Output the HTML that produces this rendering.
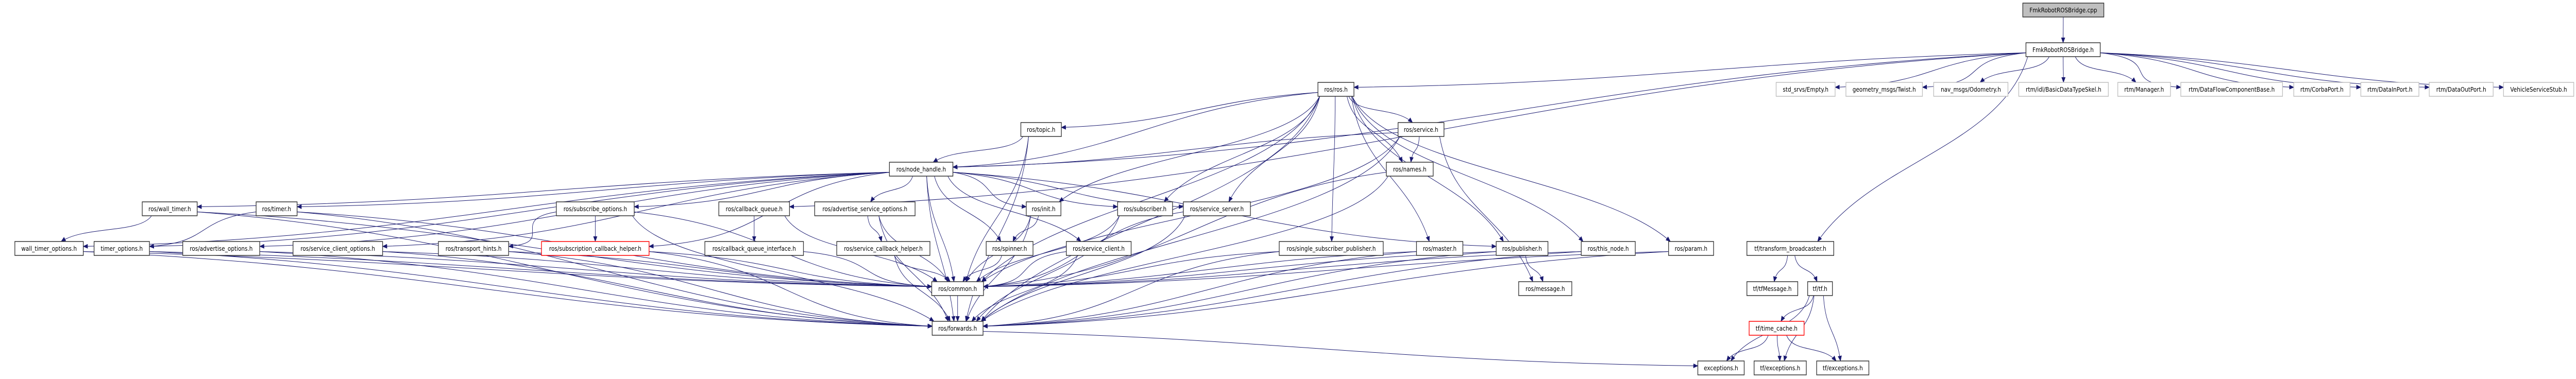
<!DOCTYPE html>
<html><head><meta charset="utf-8">
<style>
html,body{margin:0;padding:0;background:#fff;width:100%;height:100%;overflow:hidden;}
svg{position:absolute;left:0;top:0;width:100vw;height:100vh;display:block;}
rect{fill:#fff;stroke:#333;stroke-width:1.5;}
rect.g{stroke:#bfbfbf;}
rect.r{stroke:#ff0000;}
rect.root{fill:#bfbfbf;}
text{font-family:"DejaVu Sans","Liberation Sans",sans-serif;font-size:12px;text-anchor:middle;fill:#000;}
</style></head><body>
<svg id="s" viewBox="0 0 5723 736" preserveAspectRatio="none" xmlns="http://www.w3.org/2000/svg">
<defs><marker id="a" markerWidth="11" markerHeight="9" refX="10" refY="4.5" orient="auto" markerUnits="userSpaceOnUse"><path d="M0,0 L11,4.5 L0,9 z" fill="#191970"/></marker></defs>
<g id="e" fill="none" stroke="#191970" stroke-width="1"></g>
<g id="nodes">
<rect class="root" id="root" x="4494" y="6" width="180" height="27"/><text x="4584" y="24">FmkRobotROSBridge.cpp</text>
<rect id="frb" x="4501" y="83" width="165" height="27"/><text x="4583.5" y="101">FmkRobotROSBridge.h</text>
<rect id="ros" x="2928" y="160" width="80" height="27"/><text x="2968" y="178">ros/ros.h</text>
<rect class="g" id="empty" x="3946" y="160" width="131" height="27"/><text x="4011.5" y="178">std_srvs/Empty.h</text>
<rect class="g" id="twist" x="4101" y="160" width="170" height="27"/><text x="4186" y="178">geometry_msgs/Twist.h</text>
<rect class="g" id="odom" x="4296" y="160" width="165" height="27"/><text x="4378.5" y="178">nav_msgs/Odometry.h</text>
<rect class="g" id="skel" x="4485" y="160" width="199" height="27"/><text x="4584.5" y="178">rtm/idl/BasicDataTypeSkel.h</text>
<rect class="g" id="mgr" x="4705" y="160" width="117" height="27"/><text x="4763.5" y="178">rtm/Manager.h</text>
<rect class="g" id="dfc" x="4845" y="160" width="226" height="27"/><text x="4958" y="178">rtm/DataFlowComponentBase.h</text>
<rect class="g" id="corba" x="5096" y="160" width="125" height="27"/><text x="5158.5" y="178">rtm/CorbaPort.h</text>
<rect class="g" id="din" x="5245" y="160" width="129" height="27"/><text x="5309.5" y="178">rtm/DataInPort.h</text>
<rect class="g" id="dout" x="5397" y="160" width="142" height="27"/><text x="5468" y="178">rtm/DataOutPort.h</text>
<rect class="g" id="veh" x="5562" y="160" width="156" height="27"/><text x="5640" y="178">VehicleServiceStub.h</text>
<rect id="topic" x="2268" y="238" width="90" height="27"/><text x="2313" y="256">ros/topic.h</text>
<rect id="service" x="3106" y="238" width="102" height="27"/><text x="3157" y="256">ros/service.h</text>
<rect id="nh" x="1976" y="315" width="141" height="27"/><text x="2046.5" y="333">ros/node_handle.h</text>
<rect id="names" x="3080" y="315" width="104" height="27"/><text x="3132" y="333">ros/names.h</text>
<rect id="wt" x="316" y="392" width="122" height="27"/><text x="377" y="410">ros/wall_timer.h</text>
<rect id="tm" x="569" y="392" width="91" height="27"/><text x="614.5" y="410">ros/timer.h</text>
<rect id="subo" x="1236" y="392" width="173" height="27"/><text x="1322.5" y="410">ros/subscribe_options.h</text>
<rect id="cq" x="1597" y="392" width="157" height="27"/><text x="1675.5" y="410">ros/callback_queue.h</text>
<rect id="aso" x="1810" y="392" width="223" height="27"/><text x="1921.5" y="410">ros/advertise_service_options.h</text>
<rect id="init" x="2280" y="392" width="77" height="27"/><text x="2318.5" y="410">ros/init.h</text>
<rect id="sub" x="2483" y="392" width="122" height="27"/><text x="2544" y="410">ros/subscriber.h</text>
<rect id="ss" x="2629" y="392" width="149" height="27"/><text x="2703.5" y="410">ros/service_server.h</text>
<rect id="wto" x="33" y="469" width="152" height="27"/><text x="109" y="487">wall_timer_options.h</text>
<rect id="to" x="209" y="469" width="123" height="27"/><text x="270.5" y="487">timer_options.h</text>
<rect id="ao" x="406" y="469" width="171" height="27"/><text x="491.5" y="487">ros/advertise_options.h</text>
<rect id="sco" x="651" y="469" width="199" height="27"/><text x="750.5" y="487">ros/service_client_options.h</text>
<rect id="th" x="974" y="469" width="156" height="27"/><text x="1052" y="487">ros/transport_hints.h</text>
<rect class="r" id="sch" x="1203" y="469" width="239" height="27"/><text x="1322.5" y="487">ros/subscription_callback_helper.h</text>
<rect id="cqi" x="1566" y="469" width="219" height="27"/><text x="1675.5" y="487">ros/callback_queue_interface.h</text>
<rect id="svch" x="1859" y="469" width="207" height="27"/><text x="1962.5" y="487">ros/service_callback_helper.h</text>
<rect id="spin" x="2191" y="469" width="104" height="27"/><text x="2243" y="487">ros/spinner.h</text>
<rect id="sc" x="2369" y="469" width="144" height="27"/><text x="2441" y="487">ros/service_client.h</text>
<rect id="ssp" x="2842" y="469" width="231" height="27"/><text x="2957.5" y="487">ros/single_subscriber_publisher.h</text>
<rect id="master" x="3147" y="469" width="103" height="27"/><text x="3198.5" y="487">ros/master.h</text>
<rect id="pub" x="3324" y="469" width="115" height="27"/><text x="3381.5" y="487">ros/publisher.h</text>
<rect id="tn" x="3513" y="469" width="120" height="27"/><text x="3573" y="487">ros/this_node.h</text>
<rect id="param" x="3707" y="469" width="100" height="27"/><text x="3757" y="487">ros/param.h</text>
<rect id="tb" x="3881" y="469" width="193" height="27"/><text x="3977.5" y="487">tf/transform_broadcaster.h</text>
<rect id="common" x="2070" y="547" width="115" height="27"/><text x="2127.5" y="565">ros/common.h</text>
<rect id="msg" x="3374" y="547" width="118" height="27"/><text x="3433" y="565">ros/message.h</text>
<rect id="tfm" x="3881" y="547" width="113" height="27"/><text x="3937.5" y="565">tf/tfMessage.h</text>
<rect id="tf" x="4016" y="547" width="55" height="27"/><text x="4043.5" y="565">tf/tf.h</text>
<rect id="fwd" x="2071" y="624" width="113" height="27"/><text x="2127.5" y="642">ros/forwards.h</text>
<rect class="r" id="tc" x="3886" y="624" width="122" height="27"/><text x="3947" y="642">tf/time_cache.h</text>
<rect id="exc" x="3772" y="701" width="103" height="27"/><text x="3823.5" y="719">exceptions.h</text>
<rect id="tfe1" x="3897" y="701" width="116" height="27"/><text x="3955" y="719">tf/exceptions.h</text>
<rect id="tfe2" x="4036" y="701" width="116" height="27"/><text x="4094" y="719">tf/exceptions.h</text>
</g>
</svg>
<script>
var E=[
["root","frb"],
["frb","ros"],["frb","empty"],["frb","twist"],["frb","odom"],["frb","skel"],["frb","mgr"],["frb","dfc"],["frb","corba"],["frb","din"],["frb","dout"],["frb","veh"],["frb","tb"],["frb","cq"],["frb","nh"],
["ros","common"],["ros","fwd"],["ros","nh"],["ros","topic"],["ros","service"],["ros","names"],["ros","init"],["ros","sub"],["ros","ss"],["ros","ssp"],["ros","master"],["ros","pub"],["ros","tn"],["ros","param"],
["nh","fwd"],["nh","common"],["nh","pub"],["nh","sub"],["nh","ss"],["nh","sc"],["nh","tm"],["nh","wt"],["nh","ao"],["nh","aso"],["nh","subo"],["nh","sco"],["nh","to"],["nh","wto"],["nh","spin"],["nh","init"],["nh","sch"],
["topic","common"],["topic","nh"],["topic","fwd"],
["service","common"],["service","names"],["service","nh"],["service","msg"],["service","fwd"],
["names","fwd"],["names","common"],
["wt","common"],["wt","fwd"],["wt","wto"],
["tm","common"],["tm","fwd"],["tm","to"],
["wto","common"],["wto","fwd"],["to","common"],["to","fwd"],
["ao","common"],["ao","fwd"],["sco","common"],["sco","fwd"],
["th","common"],["th","fwd"],
["subo","common"],["subo","th"],["subo","sch"],["subo","fwd"],
["sch","common"],["sch","fwd"],
["cq","common"],["cq","cqi"],["cqi","common"],
["aso","common"],["aso","svch"],["aso","fwd"],["svch","common"],["svch","fwd"],
["init","common"],["init","spin"],["init","fwd"],
["sub","common"],["sub","fwd"],["ss","common"],["ss","fwd"],
["spin","common"],["sc","common"],["sc","fwd"],
["ssp","common"],["ssp","fwd"],["master","common"],["master","fwd"],
["pub","common"],["pub","fwd"],["pub","msg"],
["tn","common"],["tn","fwd"],["param","common"],["param","fwd"],
["common","fwd"],["fwd","exc"],
["tb","tfm"],["tb","tf"],
["tf","exc"],["tf","tc"],["tf","tfe1"],["tf","tfe2"],
["tc","exc"],["tc","tfe1"],["tc","tfe2"]
];
function box(id){var d=document.getElementById(id);var x=+d.getAttribute("x"),y=+d.getAttribute("y"),w=+d.getAttribute("width");return {x:x,y:y,w:w,h:27,cx:x+w/2,cy:y+13.5};}
var g=document.getElementById("e"),ns="http://www.w3.org/2000/svg";
E.forEach(function(p){var a=box(p[0]),b=box(p[1]);var sx,sy,tx,ty,c1x,c1y,c2x,c2y;
var dx=b.cx-a.cx,dy=b.cy-a.cy;
if(Math.abs(dy)<5){sx=dx>0?a.x+a.w:a.x;sy=a.cy;tx=dx>0?b.x:b.x+b.w;ty=b.cy;c1x=sx+dx*0.3;c1y=sy-20;c2x=tx-dx*0.3;c2y=ty-20;}
else if(Math.abs(dx)>3.5*Math.abs(dy)){
 var down=dy>0;sx=dx>0?a.x+a.w:a.x;sy=a.cy+(down?6:-6);tx=dx>0?b.x:b.x+b.w;ty=b.cy+(down?-4:4);
 c1x=sx+dx*0.4;c1y=sy+dy*0.2;c2x=tx-dx*0.4;c2y=ty-dy*0.1;}
else if(dy>0){sx=a.cx+Math.max(-a.w/2+4,Math.min(a.w/2-4,dx*0.15));sy=a.y+a.h;tx=b.cx-Math.max(-b.w/2+4,Math.min(b.w/2-4,dx*0.1));ty=b.y;
 c1x=sx+dx*0.1;c1y=sy+dy*0.45;c2x=tx-dx*0.2;c2y=ty-dy*0.4;}
else{sx=a.cx;sy=a.y;tx=b.cx;ty=b.y+b.h;c1x=sx;c1y=sy+dy*0.4;c2x=tx;c2y=ty-dy*0.4;}
var el=document.createElementNS(ns,"path");
el.setAttribute("d","M"+sx+","+sy+" C"+c1x+","+c1y+" "+c2x+","+c2y+" "+tx+","+ty);
el.setAttribute("marker-end","url(#a)");g.appendChild(el);});
</script>
</body></html>
